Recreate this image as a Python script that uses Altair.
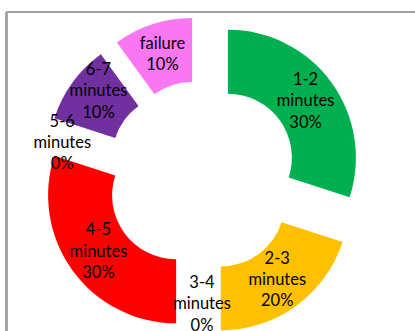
import altair as alt
import pandas as pd

# Completion time buckets and their share of attempts (%)
categories = ["1-2 minutes", "2-3 minutes", "3-4 minutes", "4-5 minutes",
              "5-6 minutes", "6-7 minutes", "failure"]
shares = [30, 20, 0, 30, 0, 10, 10]
colors = ["#00B050", "#FFC000", "#4472C4", "#FF0000", "#A5A5A5", "#7030A0", "#FA77F2"]

# Layout of the exploded doughnut (pixels)
CX, CY = 202, 176.5        # doughnut centre
R_OUT, R_IN = 128, 64      # ring radii
EXPLODE = 32               # outward shift of each slice
LABEL_R = EXPLODE + (R_OUT + R_IN) / 2
LINE_H = 21.3
# small hand adjustments so neighbouring labels don't collide
label_nudge = {"5-6 minutes": (-18, 6), "6-7 minutes": (0, -10)}

df = pd.DataFrame({"category": categories, "share": shares})
df["order"] = range(len(df))
df["label"] = [c.replace(" ", "\n") + f"\n{s}%" for c, s in zip(categories, shares)]
df["ndx"] = [label_nudge.get(c, (0, 0))[0] for c in categories]
df["ndy"] = [label_nudge.get(c, (0, 0))[1] for c in categories]

base = alt.Chart(df).transform_joinaggregate(
    total="sum(share)"
).transform_window(
    cum="sum(share)", sort=[alt.SortField("order")], frame=[None, 0]
).transform_calculate(
    t1="2 * PI * datum.cum / datum.total",
    t0="2 * PI * (datum.cum - datum.share) / datum.total",
    nlines="length(split(datum.label, '\\n'))",
).transform_calculate(
    mid="(datum.t0 + datum.t1) / 2"
).transform_calculate(
    cx=f"{CX} + {EXPLODE} * sin(datum.mid)",
    cy=f"{CY} - {EXPLODE} * cos(datum.mid)",
    lx=f"{CX} + {LABEL_R} * sin(datum.mid) + datum.ndx",
    # first line's centre, so that the whole block sits centred on the anchor
    ly=f"{CY} - {LABEL_R} * cos(datum.mid) + datum.ndy - (datum.nlines - 1) * {LINE_H} / 2",
)

slices = base.mark_arc(radius=R_OUT, radius2=R_IN, stroke=None).encode(
    x=alt.X("cx:Q", scale=None),
    y=alt.Y("cy:Q", scale=None),
    theta=alt.Theta("t0:Q", scale=None),
    theta2="t1:Q",
    color=alt.Color("category:N", scale=alt.Scale(domain=categories, range=colors),
                    legend=None),
)

labels = base.mark_text(
    font="Lato", fontSize=16.5, lineHeight=LINE_H, lineBreak="\n",
    color="#000000", align="center", baseline="middle",
).encode(
    x=alt.X("lx:Q", scale=None),
    y=alt.Y("ly:Q", scale=None),
    text="label:N",
)

# chart-area frame along the top and left edges
frame_top = alt.Chart(df).mark_rule(color="#A0A0A0", strokeWidth=1.5).encode(
    x=alt.value(6.5), x2=alt.value(415), y=alt.value(12)
)
frame_left = alt.Chart(df).mark_rule(color="#A0A0A0", strokeWidth=1.5).encode(
    x=alt.value(6.5), y=alt.value(12), y2=alt.value(331)
)

chart = alt.layer(frame_top, frame_left, slices, labels).properties(
    width=415, height=331, padding=0, autosize=alt.AutoSizeParams(type="none")
).configure_view(stroke=None)

chart.save("out.html", embed_options={"renderer": "svg", "actions": False})
